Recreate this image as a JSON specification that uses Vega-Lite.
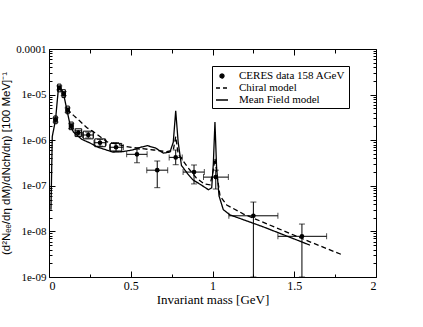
{
  "$schema": "https://vega.github.io/schema/vega-lite/v6.json",
  "autosize": "none",
  "padding": {"left": 49, "top": 49, "right": 47, "bottom": 50},
  "width": 327,
  "height": 228,
  "background": "white",
  "config": {
    "view": {"stroke": null},
    "axis": {"grid": false, "domainColor": "black", "domainWidth": 1, "tickColor": "black", "tickWidth": 1, "labelColor": "black", "labelFont": "Liberation Serif", "labelFontSize": 11, "titleColor": "black", "titleFontWeight": "normal"}
  },
  "datasets": {
    "points": [
      {"x": 0.040, "y": 2.8e-6, "xlo": 0.030, "xhi": 0.050, "ylo": 2.5e-6, "yhi": 3.1e-6, "series": "CERES data 158 AGeV"},
      {"x": 0.063, "y": 1.4e-5, "xlo": 0.053, "xhi": 0.073, "ylo": 1.27e-5, "yhi": 1.55e-5, "series": "CERES data 158 AGeV"},
      {"x": 0.090, "y": 1.05e-5, "xlo": 0.080, "xhi": 0.100, "ylo": 9.5e-6, "yhi": 1.16e-5, "series": "CERES data 158 AGeV"},
      {"x": 0.114, "y": 4.6e-6, "xlo": 0.104, "xhi": 0.124, "ylo": 4.1e-6, "yhi": 5.1e-6, "series": "CERES data 158 AGeV"},
      {"x": 0.136, "y": 2.05e-6, "xlo": 0.126, "xhi": 0.146, "ylo": 1.8e-6, "yhi": 2.3e-6, "series": "CERES data 158 AGeV"},
      {"x": 0.179, "y": 1.46e-6, "xlo": 0.160, "xhi": 0.198, "ylo": 1.3e-6, "yhi": 1.64e-6, "series": "CERES data 158 AGeV"},
      {"x": 0.240, "y": 1.3e-6, "xlo": 0.205, "xhi": 0.272, "ylo": 1.12e-6, "yhi": 1.5e-6, "series": "CERES data 158 AGeV"},
      {"x": 0.312, "y": 8.8e-7, "xlo": 0.275, "xhi": 0.350, "ylo": 7.4e-7, "yhi": 1.04e-6, "series": "CERES data 158 AGeV"},
      {"x": 0.410, "y": 7.0e-7, "xlo": 0.370, "xhi": 0.455, "ylo": 5.6e-7, "yhi": 8.9e-7, "series": "CERES data 158 AGeV"},
      {"x": 0.538, "y": 4.9e-7, "xlo": 0.475, "xhi": 0.600, "ylo": 3.2e-7, "yhi": 6.3e-7, "series": "CERES data 158 AGeV"},
      {"x": 0.662, "y": 2.2e-7, "xlo": 0.598, "xhi": 0.726, "ylo": 9.1e-8, "yhi": 3.5e-7, "series": "CERES data 158 AGeV"},
      {"x": 0.775, "y": 4.2e-7, "xlo": 0.735, "xhi": 0.815, "ylo": 2.9e-7, "yhi": 6.1e-7, "series": "CERES data 158 AGeV"},
      {"x": 0.887, "y": 2.0e-7, "xlo": 0.820, "xhi": 0.950, "ylo": 1.1e-7, "yhi": 2.86e-7, "series": "CERES data 158 AGeV"},
      {"x": 1.020, "y": 1.55e-7, "xlo": 0.945, "xhi": 1.097, "ylo": 8.5e-8, "yhi": 2.2e-7, "series": "CERES data 158 AGeV"},
      {"x": 1.250, "y": 2.2e-8, "xlo": 1.100, "xhi": 1.400, "ylo": 1e-9, "yhi": 4.4e-8, "series": "CERES data 158 AGeV"},
      {"x": 1.547, "y": 7.8e-9, "xlo": 1.400, "xhi": 1.698, "ylo": 1e-9, "yhi": 1.45e-8, "series": "CERES data 158 AGeV"}
    ],
    "boxes": [
      {"x1": 0.030, "x2": 0.050, "y1": 2.3e-6, "y2": 3.4e-6},
      {"x1": 0.053, "x2": 0.073, "y1": 1.15e-5, "y2": 1.7e-5},
      {"x1": 0.080, "x2": 0.100, "y1": 8.6e-6, "y2": 1.28e-5},
      {"x1": 0.104, "x2": 0.124, "y1": 3.8e-6, "y2": 5.6e-6},
      {"x1": 0.124, "x2": 0.148, "y1": 1.7e-6, "y2": 2.5e-6},
      {"x1": 0.160, "x2": 0.200, "y1": 1.2e-6, "y2": 1.78e-6},
      {"x1": 0.210, "x2": 0.270, "y1": 1.07e-6, "y2": 1.58e-6},
      {"x1": 0.280, "x2": 0.345, "y1": 7.2e-7, "y2": 1.07e-6},
      {"x1": 0.375, "x2": 0.445, "y1": 5.8e-7, "y2": 8.5e-7}
    ],
    "lines": [
      {"x": 0.012, "y": 3e-8, "series": "Mean Field model"},
      {"x": 0.020, "y": 1.2e-6, "series": "Mean Field model"},
      {"x": 0.040, "y": 2.8e-6, "series": "Mean Field model"},
      {"x": 0.050, "y": 7e-6, "series": "Mean Field model"},
      {"x": 0.058, "y": 1.4e-5, "series": "Mean Field model"},
      {"x": 0.066, "y": 1.5e-5, "series": "Mean Field model"},
      {"x": 0.080, "y": 1.2e-5, "series": "Mean Field model"},
      {"x": 0.090, "y": 1.0e-5, "series": "Mean Field model"},
      {"x": 0.110, "y": 4.5e-6, "series": "Mean Field model"},
      {"x": 0.130, "y": 2.1e-6, "series": "Mean Field model"},
      {"x": 0.150, "y": 1.5e-6, "series": "Mean Field model"},
      {"x": 0.200, "y": 1.05e-6, "series": "Mean Field model"},
      {"x": 0.250, "y": 8.7e-7, "series": "Mean Field model"},
      {"x": 0.300, "y": 7e-7, "series": "Mean Field model"},
      {"x": 0.390, "y": 5.5e-7, "series": "Mean Field model"},
      {"x": 0.450, "y": 5.6e-7, "series": "Mean Field model"},
      {"x": 0.510, "y": 6.1e-7, "series": "Mean Field model"},
      {"x": 0.560, "y": 7e-7, "series": "Mean Field model"},
      {"x": 0.600, "y": 7.6e-7, "series": "Mean Field model"},
      {"x": 0.650, "y": 6.8e-7, "series": "Mean Field model"},
      {"x": 0.700, "y": 5.2e-7, "series": "Mean Field model"},
      {"x": 0.740, "y": 5.5e-7, "series": "Mean Field model"},
      {"x": 0.760, "y": 9e-7, "series": "Mean Field model"},
      {"x": 0.775, "y": 4.4e-6, "series": "Mean Field model"},
      {"x": 0.790, "y": 9e-7, "series": "Mean Field model"},
      {"x": 0.810, "y": 2.8e-7, "series": "Mean Field model"},
      {"x": 0.850, "y": 1.8e-7, "series": "Mean Field model"},
      {"x": 0.880, "y": 1.35e-7, "series": "Mean Field model"},
      {"x": 0.930, "y": 1.05e-7, "series": "Mean Field model"},
      {"x": 0.975, "y": 8.2e-8, "series": "Mean Field model"},
      {"x": 0.995, "y": 9e-8, "series": "Mean Field model"},
      {"x": 1.005, "y": 3e-7, "series": "Mean Field model"},
      {"x": 1.015, "y": 2.5e-6, "series": "Mean Field model"},
      {"x": 1.025, "y": 2.5e-7, "series": "Mean Field model"},
      {"x": 1.040, "y": 6e-8, "series": "Mean Field model"},
      {"x": 1.066, "y": 3e-8, "series": "Mean Field model"},
      {"x": 1.107, "y": 2.3e-8, "series": "Mean Field model"},
      {"x": 1.310, "y": 1.26e-8, "series": "Mean Field model"},
      {"x": 1.596, "y": 5e-9, "series": "Mean Field model"},
      {"x": 0.110, "y": 4.8e-6, "series": "Chiral model"},
      {"x": 0.150, "y": 3.5e-6, "series": "Chiral model"},
      {"x": 0.190, "y": 2.6e-6, "series": "Chiral model"},
      {"x": 0.230, "y": 1.9e-6, "series": "Chiral model"},
      {"x": 0.270, "y": 1.55e-6, "series": "Chiral model"},
      {"x": 0.353, "y": 9.3e-7, "series": "Chiral model"},
      {"x": 0.475, "y": 7.2e-7, "series": "Chiral model"},
      {"x": 0.640, "y": 6.1e-7, "series": "Chiral model"},
      {"x": 0.720, "y": 5.6e-7, "series": "Chiral model"},
      {"x": 0.760, "y": 6e-7, "series": "Chiral model"},
      {"x": 0.775, "y": 1.2e-6, "series": "Chiral model"},
      {"x": 0.790, "y": 5e-7, "series": "Chiral model"},
      {"x": 0.850, "y": 2.5e-7, "series": "Chiral model"},
      {"x": 0.900, "y": 1.5e-7, "series": "Chiral model"},
      {"x": 0.950, "y": 1.1e-7, "series": "Chiral model"},
      {"x": 0.985, "y": 1.05e-7, "series": "Chiral model"},
      {"x": 1.005, "y": 2.2e-7, "series": "Chiral model"},
      {"x": 1.015, "y": 4e-7, "series": "Chiral model"},
      {"x": 1.030, "y": 1.5e-7, "series": "Chiral model"},
      {"x": 1.046, "y": 6e-8, "series": "Chiral model"},
      {"x": 1.087, "y": 3.8e-8, "series": "Chiral model"},
      {"x": 1.190, "y": 2.4e-8, "series": "Chiral model"},
      {"x": 1.250, "y": 1.95e-8, "series": "Chiral model"},
      {"x": 1.596, "y": 5.9e-9, "series": "Chiral model"},
      {"x": 1.800, "y": 3e-9, "series": "Chiral model"}
    ]
  },
  "resolve": {"scale": {"x": "shared", "y": "shared"}, "axis": {"x": "independent", "y": "independent"}},
  "layer": [
    {
      "data": {"name": "boxes"},
      "mark": {"type": "rect", "fill": null, "stroke": "black", "strokeWidth": 1, "clip": true},
      "encoding": {
        "x": {"field": "x1", "type": "quantitative", "scale": {"domain": [0, 2], "nice": false, "zero": false},
          "axis": {"orient": "bottom", "values": [0, 0.25, 0.5, 0.75, 1, 1.25, 1.5, 1.75, 2],
            "labelExpr": "datum.value % 0.5 === 0 ? '' + datum.value : ''",
            "tickSize": {"condition": {"test": "datum.value % 0.5 === 0", "value": -6}, "value": -3},
            "labelPadding": 9, "labelFontSize": 12,
            "title": "Invariant mass [GeV]", "titleFont": "Liberation Serif", "titleFontSize": 13, "titlePadding": 2}},
        "x2": {"field": "x2"},
        "y": {"field": "y1", "type": "quantitative", "scale": {"type": "log", "domain": [1e-9, 1e-4], "nice": false},
          "axis": {"orient": "left",
            "values": [1e-9, 2e-9, 3e-9, 4e-9, 5e-9, 6e-9, 7e-9, 8e-9, 9e-9, 1e-8, 2e-8, 3e-8, 4e-8, 5e-8, 6e-8, 7e-8, 8e-8, 9e-8, 1e-7, 2e-7, 3e-7, 4e-7, 5e-7, 6e-7, 7e-7, 8e-7, 9e-7, 1e-6, 2e-6, 3e-6, 4e-6, 5e-6, 6e-6, 7e-6, 8e-6, 9e-6, 1e-5, 2e-5, 3e-5, 4e-5, 5e-5, 6e-5, 7e-5, 8e-5, 9e-5, 1e-4],
            "labelExpr": "abs(log(datum.value)/LN10 - round(log(datum.value)/LN10)) < 0.001 ? (datum.value > 5e-5 ? '0.0001' : '1e-0' + round(-log(datum.value)/LN10)) : ''",
            "tickSize": {"condition": {"test": "abs(log(datum.value)/LN10 - round(log(datum.value)/LN10)) < 0.001", "value": -6}, "value": -3},
            "labelPadding": 9,
            "title": "(d²Nₑₑ/dη dM)/dNch/dη) [100 MeV]⁻¹", "titleFont": "Liberation Sans", "titleFontSize": 11.5, "titlePadding": 4}},
        "y2": {"field": "y2"}
      }
    },
    {
      "data": {"name": "points"},
      "mark": {"type": "errorbar", "ticks": {"size": 6}, "color": "black", "thickness": 1, "clip": true},
      "encoding": {
        "x": {"field": "xlo", "type": "quantitative", "axis": null},
        "x2": {"field": "xhi"},
        "y": {"field": "y", "type": "quantitative", "axis": null}
      }
    },
    {
      "data": {"name": "points"},
      "mark": {"type": "errorbar", "ticks": {"size": 6}, "color": "black", "thickness": 1, "clip": true},
      "encoding": {
        "y": {"field": "ylo", "type": "quantitative", "axis": null},
        "y2": {"field": "yhi"},
        "x": {"field": "x", "type": "quantitative", "axis": null}
      }
    },
    {
      "data": {"name": "lines"},
      "mark": {"type": "line", "strokeWidth": 1.3, "clip": true},
      "encoding": {
        "x": {"field": "x", "type": "quantitative",
          "axis": {"orient": "top", "values": [0, 0.25, 0.5, 0.75, 1, 1.25, 1.5, 1.75, 2], "labels": false, "title": null,
            "tickSize": {"condition": {"test": "datum.value % 0.5 === 0", "value": -6}, "value": -4}}},
        "y": {"field": "y", "type": "quantitative",
          "axis": {"orient": "right", "labels": false, "title": null,
            "values": [1e-9, 2e-9, 3e-9, 4e-9, 5e-9, 6e-9, 7e-9, 8e-9, 9e-9, 1e-8, 2e-8, 3e-8, 4e-8, 5e-8, 6e-8, 7e-8, 8e-8, 9e-8, 1e-7, 2e-7, 3e-7, 4e-7, 5e-7, 6e-7, 7e-7, 8e-7, 9e-7, 1e-6, 2e-6, 3e-6, 4e-6, 5e-6, 6e-6, 7e-6, 8e-6, 9e-6, 1e-5, 2e-5, 3e-5, 4e-5, 5e-5, 6e-5, 7e-5, 8e-5, 9e-5, 1e-4],
            "tickSize": {"condition": {"test": "abs(log(datum.value)/LN10 - round(log(datum.value)/LN10)) < 0.001", "value": -6}, "value": -3}}},
        "detail": {"field": "series"},
        "color": {"field": "series", "type": "nominal",
          "scale": {"domain": ["CERES data 158 AGeV", "Chiral model", "Mean Field model"], "range": ["black", "black", "black"]},
          "legend": {"orient": "none", "legendX": 163, "legendY": 17, "title": null, "strokeColor": "black", "padding": 3,
            "labelFont": "Liberation Serif", "labelFontSize": 11, "labelColor": "black", "rowPadding": 0, "labelOffset": 10,
            "symbolStrokeWidth": 1.3, "symbolSize": 144,
            "encode": {"symbols": {"update": {
              "shape": {"signal": "datum.value === 'CERES data 158 AGeV' ? 'circle' : 'stroke'"},
              "size": {"signal": "datum.value === 'CERES data 158 AGeV' ? 16 : 144"},
              "fill": {"signal": "datum.value === 'CERES data 158 AGeV' ? 'black' : 'transparent'"},
              "stroke": {"value": "black"},
              "strokeDash": {"signal": "datum.value === 'Chiral model' ? [4, 3] : [1, 0]"}}}}}},
        "strokeDash": {"field": "series", "type": "nominal",
          "scale": {"domain": ["Chiral model", "Mean Field model"], "range": [[5, 3], [1, 0]]}, "legend": null}
      }
    },
    {
      "data": {"name": "points"},
      "mark": {"type": "point", "filled": true, "opacity": 1, "size": 22, "shape": "circle", "clip": true},
      "encoding": {
        "x": {"field": "x", "type": "quantitative", "axis": null},
        "y": {"field": "y", "type": "quantitative", "axis": null},
        "color": {"field": "series", "type": "nominal"}
      }
    }
  ]
}
